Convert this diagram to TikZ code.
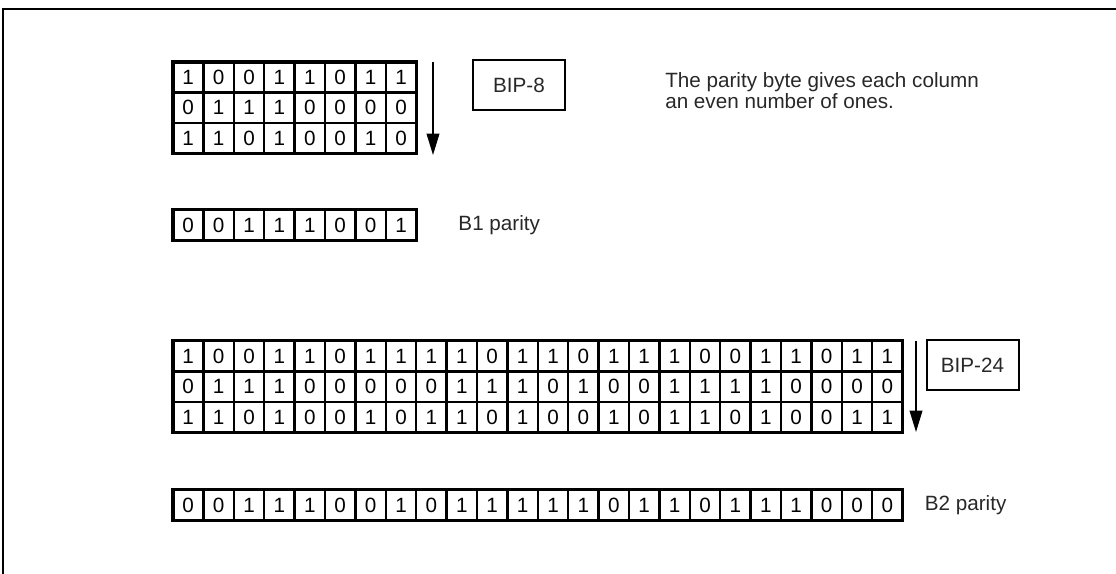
\documentclass[tikz,border=0pt]{standalone}
\usepackage{fontspec}
\setmainfont{Liberation Sans}
\usetikzlibrary{arrows.meta,positioning}
\definecolor{parityInk}{RGB}{40,40,40}

\begin{document}
\begin{tikzpicture}[
  x=0.75pt,y=-0.75pt,
  every node/.style={font=\fontsize{15.5}{15.75}\selectfont},
  bitcell/.style={draw,line width=1.8pt,minimum width=22.8pt,minimum height=22.9pt,inner sep=0pt,outer sep=0pt},
  bipbox/.style={draw,line width=1.5pt,minimum width=69pt,minimum height=37.5pt,text=parityInk},
  note/.style={text=parityInk,align=left,inner sep=0pt},
  colarrow/.style={-{Triangle[length=16pt,width=9.5pt]},line width=1.2pt}
]
  \useasboundingbox (0,0) rectangle (1116,574);
  \draw[line width=1.6pt] (3,574) -- (3,9) -- (1116,9);

  % BIP-8 over three bytes
  \foreach \row [count=\r] in {{1,0,0,1,1,0,1,1},{0,1,1,1,0,0,0,0},{1,1,0,1,0,0,1,0}}
    \foreach \b [count=\c] in \row
      \node[bitcell] (e\r-\c) at ({173+30.4*(\c-0.5)},{62+30.5*(\r-0.5)}) {\b};
  \draw[line width=2.3pt] (e1-1.north west) rectangle (e3-8.south east);

  \coordinate (a8top) at (433,62);
  \coordinate (a8bot) at (433,155);
  \draw[colarrow] (a8top) -- (a8bot);

  \node[bipbox] (bip8) at (519,85) {BIP-8};
  \node[note,anchor=west] (rule) at (665,91) {The parity byte gives each column\\an even number of ones.};

  \foreach \b [count=\c] in {0,0,1,1,1,0,0,1}
    \node[bitcell] (p1-\c) at ({173+30.4*(\c-0.5)},225) {\b};
  \draw[line width=2.3pt] (p1-1.north west) rectangle (p1-8.south east);
  \node[note,right=31.5pt of p1-8] (b1lbl) {B1 parity};

  % BIP-24 over three rows of 24 bits
  \foreach \row [count=\r] in {{1,0,0,1,1,0,1,1,1,1,0,1,1,0,1,1,1,0,0,1,1,0,1,1},
                               {0,1,1,1,0,0,0,0,0,1,1,1,0,1,0,0,1,1,1,1,0,0,0,0},
                               {1,1,0,1,0,0,1,0,1,1,0,1,0,0,1,0,1,1,0,1,0,0,1,1}}
    \foreach \b [count=\c] in \row
      \node[bitcell] (f\r-\c) at ({173+30.4*(\c-0.5)},{341+30.4*(\r-0.5)}) {\b};
  \draw[line width=2.3pt] (f1-1.north west) rectangle (f3-24.south east);

  \coordinate (a24top) at (916,341);
  \coordinate (a24bot) at (916,432);
  \draw[colarrow] (a24top) -- (a24bot);

  \node[bipbox] (bip24) at (972.5,365) {BIP-24};

  \foreach \b [count=\c] in {0,0,1,1,1,0,0,1,0,1,1,1,1,1,0,1,1,0,1,1,1,0,0,0}
    \node[bitcell] (p2-\c) at ({173+30.4*(\c-0.5)},505) {\b};
  \draw[line width=2.3pt] (p2-1.north west) rectangle (p2-24.south east);
  \node[note,right=16.5pt of p2-24] (b2lbl) {B2 parity};
\end{tikzpicture}
\end{document}
